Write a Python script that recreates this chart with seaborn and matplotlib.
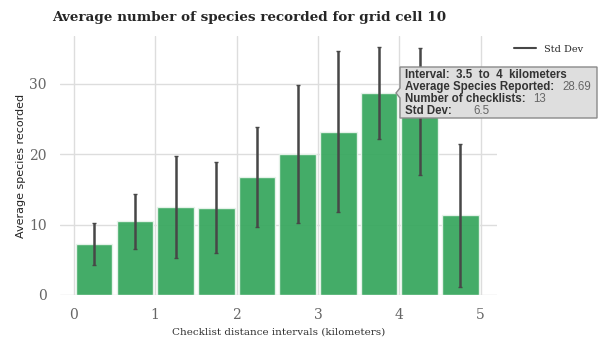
import numpy as np
import pandas as pd
import seaborn as sns
import matplotlib.pyplot as plt
from matplotlib.patches import Polygon
from matplotlib.lines import Line2D

# bin centres of the 0.5 km distance intervals and their stats
interval_mid = [0.25, 0.75, 1.25, 1.75, 2.25, 2.75, 3.25, 3.75, 4.25, 4.75]
avg_species = [7.25, 10.5, 12.5, 12.4, 16.8, 20.1, 23.2, 28.69, 26.1, 11.3]
std_dev = [2.95, 3.9, 7.3, 6.5, 7.1, 9.8, 11.4, 6.5, 9.0, 10.2]

# tooltip for the hovered bin
tip_interval = "3.5  to  4  kilometers"
tip_avg = 28.69
tip_n = 13
tip_sd = 6.5

df = pd.DataFrame({"mid": interval_mid, "avg": avg_species, "sd": std_dev})

sns.set_style("white")
fig = plt.figure(figsize=(5.98, 3.4), dpi=100)
ax = fig.add_axes([60 / 598, 1 - 295 / 340, 437 / 598, 259 / 340])

sns.barplot(data=df, x="mid", y="avg", native_scale=True, width=0.9,
            color="#3aa860", saturation=1, alpha=0.95, edgecolor="#e8f4ec", linewidth=1,
            errorbar=None, ax=ax, zorder=2)
ax.errorbar(df["mid"], df["avg"], yerr=df["sd"], fmt="none", ecolor="#474747",
            elinewidth=1.8, capsize=1.5, capthick=1, zorder=3)

ax.set_xlim(-0.17, 5.2)
ax.set_ylim(0, 36.8)
ax.set_xticks(range(6))
ax.set_yticks([0, 10, 20, 30])
ax.grid(True, color="#dddddd", lw=1, zorder=0)
ax.set_axisbelow(True)
for s in ax.spines.values():
    s.set_visible(False)
ax.tick_params(axis="both", colors="#dddddd", labelcolor="#666666",
               labelsize=10, length=6, width=1)
for lab in ax.get_xticklabels() + ax.get_yticklabels():
    lab.set_family("DejaVu Serif")

ax.set_xlabel("Checklist distance intervals (kilometers)", family="DejaVu Serif",
              fontsize=7.5, color="#333333", labelpad=4)
ax.set_ylabel("Average species recorded", family=["Liberation Sans Narrow", "DejaVu Sans"],
              fontsize=8, color="#222222", labelpad=2)
fig.text(52 / 598, 1 - 17 / 340, "Average number of species recorded for grid cell 10",
         family="DejaVu Serif", fontweight="heavy", fontsize=9.7, va="center", ha="left")

leg = ax.legend(handles=[Line2D([], [], color="#474747", lw=1.5)], labels=["Std Dev"],
                loc="upper left", bbox_to_anchor=(1.02, 1.0), frameon=False,
                prop={"family": "DejaVu Serif", "size": 7}, handlelength=2.2)

# tooltip box
W, H = 598, 340
def fx(x):
    return x / W
def fy(y):
    return 1 - y / H
box = Polygon([(fx(400), fy(67)), (fx(597), fy(67)), (fx(597), fy(118)), (fx(400), fy(118)),
               (fx(400), fy(98)), (fx(396), fy(93)), (fx(400), fy(88))],
              closed=True, transform=fig.transFigure, facecolor="#dedede",
              edgecolor="#8a8a8a", lw=1, zorder=10)
fig.patches.append(box)
tf = dict(family=["Liberation Sans", "DejaVu Sans"], fontsize=8.3, va="center", zorder=11)
rows = [("Interval:  " + tip_interval, None, 0),
        ("Average Species Reported:", f"{tip_avg:.2f}", 562),
        ("Number of checklists:", f"{tip_n}", 533),
        ("Std Dev:", f"{tip_sd}", 473)]
for i, (lab, val, vx) in enumerate(rows):
    y = 75 + 12 * i
    fig.text(fx(405), fy(y), lab, fontweight="bold", color="#333333", **tf)
    if val is not None:
        fig.text(fx(vx), fy(y), val, color="#666666", **tf)

fig.savefig("out.png", dpi=100)
